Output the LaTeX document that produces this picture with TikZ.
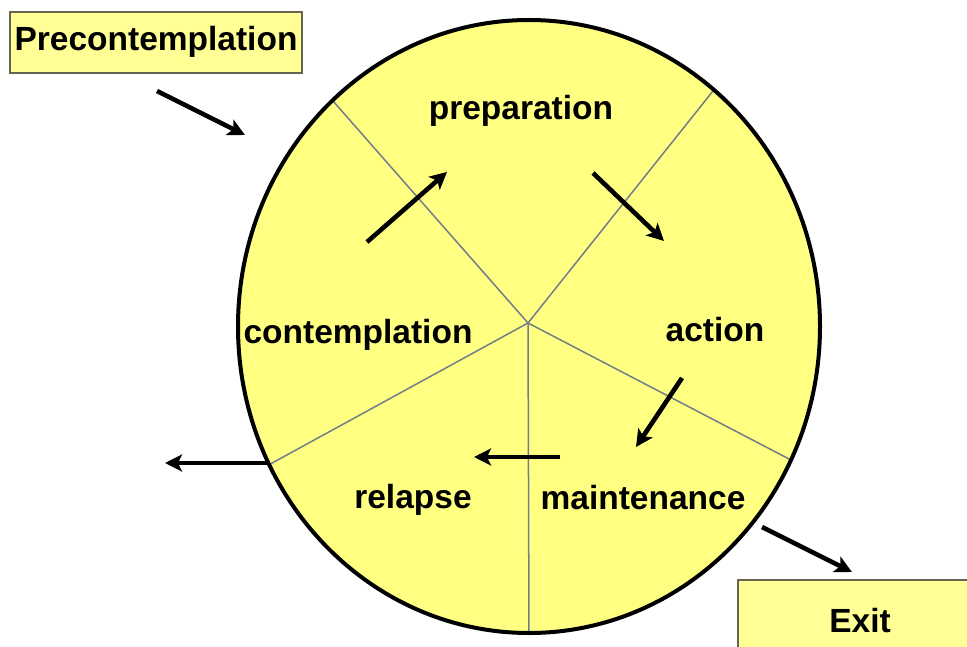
\documentclass[tikz,border=0pt]{standalone}
\usepackage{fontspec}
\setmainfont{Liberation Sans}
\usetikzlibrary{arrows.meta,shapes.geometric}
\definecolor{wheelyellow}{RGB}{255,255,130}
\definecolor{boxyellow}{RGB}{255,255,150}
\definecolor{boxline}{RGB}{100,100,80}
\definecolor{spokegray}{RGB}{115,125,135}
\tikzset{
  lbl/.style={font=\fontsize{33.5}{38}\selectfont\bfseries, anchor=base, inner sep=0pt},
  stagebox/.style={draw=boxline, line width=1.6pt, fill=boxyellow, inner sep=0pt},
  spoke/.style={draw=spokegray, line width=1.5pt},
  flow/.style={line width=4.6pt, -{Stealth[length=17pt,width=17pt,inset=4pt]}},
}
\begin{document}
\begin{tikzpicture}[x=1pt,y=-1pt]
\clip (0,0) rectangle (967,647);
\fill[white] (0,0) rectangle (967,647);
% wheel
\node[ellipse, fill=wheelyellow, minimum width=582pt, minimum height=613pt, inner sep=0pt] (wheel) at (529,326.5) {};
\coordinate (hub) at (528,323);
\draw[spoke] (hub) -- (wheel.131.9);
\draw[spoke] (hub) -- (wheel.52.6);
\draw[spoke] (hub) -- (wheel.-27.6);
\draw[spoke] (hub) -- (wheel.-90);
\draw[spoke] (hub) -- (wheel.208.5);
\node[ellipse, draw=black, line width=4pt, minimum width=582pt, minimum height=613pt, inner sep=0pt] (rim) at (529,326.5) {};
% boxes
\node[stagebox, minimum width=292pt, minimum height=61pt] (prebox) at (156,42.5) {};
\node[lbl] (pre) at (156,51) {Precontemplation};
\node[stagebox, minimum width=244pt, minimum height=80pt] (exitbox) at (860,620) {};
\node[lbl] (exit) at (860,632) {Exit};
% stage labels
\node[lbl] (prep) at (521,120) {preparation};
\node[lbl] (cont) at (358,343) {contemplation};
\node[lbl] (act) at (715,341) {action};
\node[lbl] (rel) at (413,508) {relapse};
\node[lbl] (main) at (643,509) {maintenance};
% arrow endpoints
\coordinate (a1s) at (157,91);  \coordinate (a1e) at (245,135);
\coordinate (a2s) at (367,242); \coordinate (a2e) at (447,172);
\coordinate (a3s) at (593,173); \coordinate (a3e) at (664,241);
\coordinate (a4s) at (682,378); \coordinate (a4e) at (636,447);
\coordinate (a5s) at (560,457); \coordinate (a5e) at (474,457);
\coordinate (a6s) at (268,463); \coordinate (a6e) at (165,463);
\coordinate (a7s) at (762,527); \coordinate (a7e) at (852,572);
\draw[flow] (a1s) -- (a1e);
\draw[flow] (a2s) -- (a2e);
\draw[flow] (a3s) -- (a3e);
\draw[flow] (a4s) -- (a4e);
\draw[flow] (a5s) -- (a5e);
\draw[flow] (a6s) -- (a6e);
\draw[flow] (a7s) -- (a7e);
\end{tikzpicture}
\end{document}
